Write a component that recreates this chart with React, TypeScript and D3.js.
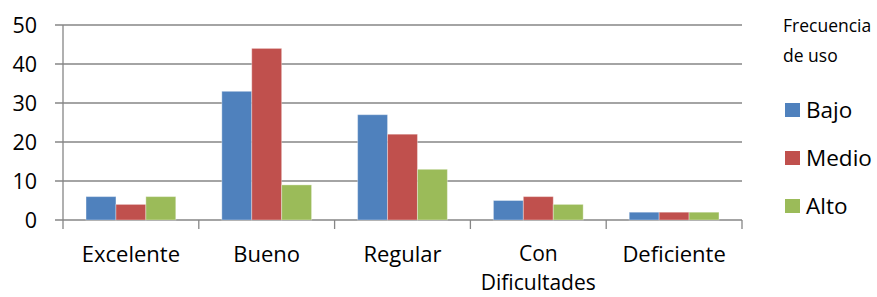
import React from 'react';
import * as d3 from 'd3';

const categories = ['Excelente', 'Bueno', 'Regular', 'Con Dificultades', 'Deficiente'];
const seriesNames = ['Bajo', 'Medio', 'Alto'];
const bajo = [6, 33, 27, 5, 2];
const medio = [4, 44, 22, 6, 2];
const alto = [6, 9, 13, 4, 2];
const yTicks = [0, 10, 20, 30, 40, 50];
const colors = ['#4F81BD', '#C0504D', '#9BBB59'];

const W = 877, H = 297;
const margin = { top: 25, right: 135, bottom: 77, left: 63 };
const font = '"Open Sans", sans-serif';

export default function App() {
  const series = [bajo, medio, alto];
  const x = d3.scaleBand().domain(categories).range([margin.left, W - margin.right]);
  const inner = d3.scaleBand().domain(seriesNames)
    .range([0, x.bandwidth()]).paddingOuter(0.77).paddingInner(0);
  const y = d3.scaleLinear().domain([0, 50]).range([H - margin.bottom, margin.top]);
  const x0 = margin.left, x1 = W - margin.right;
  const tickXs = categories.map(c => x(c)!).concat([x1]);

  return (
    <svg width={W} height={H} style={{ position: 'absolute', left: 0, top: 0, background: '#fff' }}>
      {yTicks.map(t => (
        <g key={t}>
          <line x1={x0 - 8} x2={x1} y1={y(t)} y2={y(t)} stroke="#868686" strokeWidth={1.3} />
          <text x={37} y={y(t)} dy="0.35em" textAnchor="end" fontFamily={font} fontSize={21.5} fill="#000">{t}</text>
        </g>
      ))}
      <line x1={x0} x2={x0} y1={y(50)} y2={y(0) + 9} stroke="#868686" strokeWidth={1.3} />
      {tickXs.slice(1).map((tx, i) => (
        <line key={i} x1={tx} x2={tx} y1={y(0)} y2={y(0) + 9} stroke="#868686" strokeWidth={1.3} />
      ))}
      {categories.map((c, ci) => (
        <g key={c}>
          {series.map((s, si) => (
            <rect key={si} x={x(c)! + inner(seriesNames[si])!} width={inner.bandwidth()}
              y={y(s[ci])} height={y(0) - y(s[ci])} fill={colors[si]}
              stroke="#ffffff" strokeOpacity={0.35} strokeWidth={1} />
          ))}
          {c === 'Con Dificultades' ? (
            <g fontFamily={font} fontSize={21} fill="#000" textAnchor="middle">
              <text x={x(c)! + x.bandwidth() / 2} y={261}>Con</text>
              <text x={x(c)! + x.bandwidth() / 2} y={290}>Dificultades</text>
            </g>
          ) : (
            <text x={x(c)! + x.bandwidth() / 2} y={262} textAnchor="middle" fontFamily={font} fontSize={22} fill="#000">{c}</text>
          )}
        </g>
      ))}
      <text x={783} y={32} fontFamily={font} fontSize={17.5} fill="#000">Frecuencia</text>
      <text x={783} y={62} fontFamily={font} fontSize={17.5} fill="#000">de uso</text>
      {seriesNames.map((n, i) => (
        <g key={n}>
          <rect x={785} y={103 + i * 48} width={15} height={14} fill={colors[i]} />
          <text x={806} y={110 + i * 48} dy="0.35em" fontFamily={font} fontSize={22.5} fill="#000">{n}</text>
        </g>
      ))}
    </svg>
  );
}
